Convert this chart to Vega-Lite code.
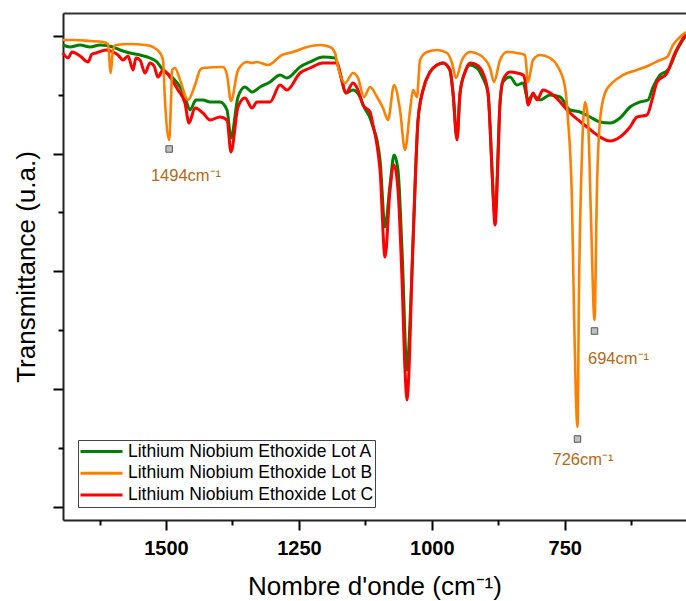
{
"$schema": "https://vega.github.io/schema/vega-lite/v6.json",
"width": 623, "height": 507,
"autosize": {"type": "none"},
"padding": {"left": 63, "top": 13, "right": 0, "bottom": 81},
"config": {"font": "Liberation Sans", "view": {"stroke": null}},
"datasets": {
"spec": [
{"lot":"A","wn":1693.7,"t":475},{"lot":"A","wn":1680.5,"t":473},{"lot":"A","wn":1661.7,"t":475},{"lot":"A","wn":1642.9,"t":473},{"lot":"A","wn":1624.1,"t":475},{"lot":"A","wn":1599.7,"t":473},{"lot":"A","wn":1586.5,"t":470},{"lot":"A","wn":1567.7,"t":467},{"lot":"A","wn":1548.9,"t":465},{"lot":"A","wn":1530.1,"t":462},{"lot":"A","wn":1516.9,"t":458},{"lot":"A","wn":1505.6,"t":450},{"lot":"A","wn":1496.2,"t":446},{"lot":"A","wn":1486.8,"t":442},{"lot":"A","wn":1473.6,"t":433},{"lot":"A","wn":1464.3,"t":423},{"lot":"A","wn":1454.8,"t":410},{"lot":"A","wn":1443.5,"t":420},{"lot":"A","wn":1430.4,"t":420},{"lot":"A","wn":1417.2,"t":418},{"lot":"A","wn":1398.4,"t":418},{"lot":"A","wn":1385.2,"t":410},{"lot":"A","wn":1377.7,"t":382},{"lot":"A","wn":1364.5,"t":423},{"lot":"A","wn":1351.4,"t":433},{"lot":"A","wn":1338.2,"t":428},{"lot":"A","wn":1323.1,"t":433},{"lot":"A","wn":1304.3,"t":438},{"lot":"A","wn":1285.5,"t":445},{"lot":"A","wn":1272.4,"t":442},{"lot":"A","wn":1247.9,"t":453},{"lot":"A","wn":1229.1,"t":458},{"lot":"A","wn":1204.6,"t":463},{"lot":"A","wn":1182.1,"t":462},{"lot":"A","wn":1172.7,"t":447},{"lot":"A","wn":1161.4,"t":427},{"lot":"A","wn":1148.2,"t":430},{"lot":"A","wn":1135,"t":423},{"lot":"A","wn":1127.5,"t":413},{"lot":"A","wn":1116.2,"t":402},{"lot":"A","wn":1110.6,"t":393},{"lot":"A","wn":1103.1,"t":380},{"lot":"A","wn":1097.4,"t":360},{"lot":"A","wn":1088,"t":293},{"lot":"A","wn":1078.6,"t":335},{"lot":"A","wn":1071,"t":365},{"lot":"A","wn":1063.6,"t":350},{"lot":"A","wn":1056,"t":270},{"lot":"A","wn":1046.6,"t":150},{"lot":"A","wn":1040.9,"t":200},{"lot":"A","wn":1037.2,"t":250},{"lot":"A","wn":1031.6,"t":333},{"lot":"A","wn":1025.9,"t":400},{"lot":"A","wn":1016.5,"t":430},{"lot":"A","wn":1003.4,"t":448},{"lot":"A","wn":990.2,"t":455},{"lot":"A","wn":978.9,"t":457},{"lot":"A","wn":965.9,"t":450},{"lot":"A","wn":960.1,"t":427},{"lot":"A","wn":952.6,"t":382},{"lot":"A","wn":946.9,"t":427},{"lot":"A","wn":937.5,"t":448},{"lot":"A","wn":928.1,"t":455},{"lot":"A","wn":915,"t":452},{"lot":"A","wn":903.9,"t":442},{"lot":"A","wn":894.3,"t":427},{"lot":"A","wn":881.1,"t":305},{"lot":"A","wn":871.7,"t":417},{"lot":"A","wn":866.1,"t":438},{"lot":"A","wn":852.9,"t":443},{"lot":"A","wn":839.7,"t":435},{"lot":"A","wn":828.4,"t":437},{"lot":"A","wn":819,"t":420},{"lot":"A","wn":809.6,"t":425},{"lot":"A","wn":796.5,"t":420},{"lot":"A","wn":777.7,"t":425},{"lot":"A","wn":758.8,"t":423},{"lot":"A","wn":740,"t":410},{"lot":"A","wn":721.2,"t":408},{"lot":"A","wn":702.4,"t":403},{"lot":"A","wn":683.6,"t":398},{"lot":"A","wn":664.8,"t":397},{"lot":"A","wn":646,"t":402},{"lot":"A","wn":627.2,"t":413},{"lot":"A","wn":608.4,"t":418},{"lot":"A","wn":593.3,"t":420},{"lot":"A","wn":583.9,"t":433},{"lot":"A","wn":570.7,"t":445},{"lot":"A","wn":555.7,"t":450},{"lot":"A","wn":538.8,"t":470},{"lot":"A","wn":521.9,"t":485},
{"lot":"B","wn":1693.7,"t":480},{"lot":"B","wn":1671.1,"t":480},{"lot":"B","wn":1642.9,"t":479},{"lot":"B","wn":1618.5,"t":478},{"lot":"B","wn":1609.1,"t":476},{"lot":"B","wn":1604,"t":447},{"lot":"B","wn":1599.7,"t":470},{"lot":"B","wn":1594,"t":475},{"lot":"B","wn":1567.7,"t":476},{"lot":"B","wn":1539.5,"t":475},{"lot":"B","wn":1524.4,"t":473},{"lot":"B","wn":1511.2,"t":467},{"lot":"B","wn":1505.6,"t":460},{"lot":"B","wn":1501.9,"t":420},{"lot":"B","wn":1494,"t":380},{"lot":"B","wn":1490.5,"t":420},{"lot":"B","wn":1488.5,"t":450},{"lot":"B","wn":1483.1,"t":452},{"lot":"B","wn":1473.6,"t":440},{"lot":"B","wn":1458.6,"t":420},{"lot":"B","wn":1445.4,"t":435},{"lot":"B","wn":1436,"t":450},{"lot":"B","wn":1430.4,"t":452},{"lot":"B","wn":1392.7,"t":453},{"lot":"B","wn":1385.2,"t":445},{"lot":"B","wn":1377.7,"t":419},{"lot":"B","wn":1364.5,"t":450},{"lot":"B","wn":1347.6,"t":458},{"lot":"B","wn":1338.2,"t":457},{"lot":"B","wn":1328.8,"t":458},{"lot":"B","wn":1308.1,"t":455},{"lot":"B","wn":1281.8,"t":465},{"lot":"B","wn":1261.1,"t":468},{"lot":"B","wn":1234.7,"t":473},{"lot":"B","wn":1210.3,"t":475},{"lot":"B","wn":1191.4,"t":473},{"lot":"B","wn":1182.1,"t":467},{"lot":"B","wn":1176.4,"t":453},{"lot":"B","wn":1163.3,"t":437},{"lot":"B","wn":1148.2,"t":447},{"lot":"B","wn":1138.8,"t":442},{"lot":"B","wn":1127.5,"t":423},{"lot":"B","wn":1116.2,"t":433},{"lot":"B","wn":1103.1,"t":423},{"lot":"B","wn":1091.8,"t":412},{"lot":"B","wn":1082.4,"t":400},{"lot":"B","wn":1071,"t":435},{"lot":"B","wn":1059.8,"t":410},{"lot":"B","wn":1050.4,"t":370},{"lot":"B","wn":1040.9,"t":410},{"lot":"B","wn":1035.3,"t":430},{"lot":"B","wn":1027.8,"t":423},{"lot":"B","wn":1022.2,"t":460},{"lot":"B","wn":1009,"t":468},{"lot":"B","wn":990.2,"t":470},{"lot":"B","wn":971.4,"t":467},{"lot":"B","wn":962,"t":457},{"lot":"B","wn":954.5,"t":442},{"lot":"B","wn":943.2,"t":460},{"lot":"B","wn":928.1,"t":468},{"lot":"B","wn":909.4,"t":465},{"lot":"B","wn":890.5,"t":452},{"lot":"B","wn":883,"t":438},{"lot":"B","wn":871.7,"t":460},{"lot":"B","wn":858.6,"t":468},{"lot":"B","wn":839.7,"t":467},{"lot":"B","wn":824.7,"t":465},{"lot":"B","wn":819,"t":438},{"lot":"B","wn":809.6,"t":460},{"lot":"B","wn":796.5,"t":465},{"lot":"B","wn":777.7,"t":462},{"lot":"B","wn":762.6,"t":453},{"lot":"B","wn":749.5,"t":433},{"lot":"B","wn":743.8,"t":400},{"lot":"B","wn":736.3,"t":317},{"lot":"B","wn":732.5,"t":207},{"lot":"B","wn":726,"t":93},{"lot":"B","wn":723.1,"t":233},{"lot":"B","wn":717.5,"t":367},{"lot":"B","wn":711.8,"t":418},{"lot":"B","wn":706.2,"t":400},{"lot":"B","wn":700.5,"t":300},{"lot":"B","wn":694,"t":200},{"lot":"B","wn":689.3,"t":333},{"lot":"B","wn":683.6,"t":400},{"lot":"B","wn":674.2,"t":427},{"lot":"B","wn":661,"t":437},{"lot":"B","wn":640.3,"t":445},{"lot":"B","wn":614,"t":450},{"lot":"B","wn":589.6,"t":455},{"lot":"B","wn":570.7,"t":460},{"lot":"B","wn":557.6,"t":463},{"lot":"B","wn":546.3,"t":475},{"lot":"B","wn":533.2,"t":483},{"lot":"B","wn":521.9,"t":488},
{"lot":"C","wn":1693.7,"t":467},{"lot":"C","wn":1684.3,"t":462},{"lot":"C","wn":1676.8,"t":468},{"lot":"C","wn":1661.7,"t":464},{"lot":"C","wn":1646.7,"t":458},{"lot":"C","wn":1639.1,"t":466},{"lot":"C","wn":1631.6,"t":467},{"lot":"C","wn":1612.8,"t":470},{"lot":"C","wn":1599.7,"t":468},{"lot":"C","wn":1590.3,"t":465},{"lot":"C","wn":1580.8,"t":460},{"lot":"C","wn":1571.4,"t":464},{"lot":"C","wn":1562,"t":450},{"lot":"C","wn":1556.4,"t":462},{"lot":"C","wn":1548.9,"t":460},{"lot":"C","wn":1539.5,"t":447},{"lot":"C","wn":1530.1,"t":457},{"lot":"C","wn":1522.5,"t":454},{"lot":"C","wn":1515,"t":443},{"lot":"C","wn":1505.6,"t":450},{"lot":"C","wn":1492.5,"t":443},{"lot":"C","wn":1477.4,"t":430},{"lot":"C","wn":1464.3,"t":417},{"lot":"C","wn":1456.7,"t":397},{"lot":"C","wn":1445.4,"t":412},{"lot":"C","wn":1430.4,"t":407},{"lot":"C","wn":1417.2,"t":400},{"lot":"C","wn":1398.4,"t":403},{"lot":"C","wn":1385.2,"t":400},{"lot":"C","wn":1377.7,"t":368},{"lot":"C","wn":1364.5,"t":413},{"lot":"C","wn":1351.4,"t":422},{"lot":"C","wn":1338.2,"t":412},{"lot":"C","wn":1328.8,"t":418},{"lot":"C","wn":1304.3,"t":418},{"lot":"C","wn":1285.5,"t":435},{"lot":"C","wn":1272.4,"t":430},{"lot":"C","wn":1247.9,"t":447},{"lot":"C","wn":1229.1,"t":452},{"lot":"C","wn":1204.6,"t":457},{"lot":"C","wn":1178.3,"t":457},{"lot":"C","wn":1170.8,"t":443},{"lot":"C","wn":1161.4,"t":427},{"lot":"C","wn":1148.2,"t":437},{"lot":"C","wn":1138.8,"t":430},{"lot":"C","wn":1129.4,"t":415},{"lot":"C","wn":1116.2,"t":408},{"lot":"C","wn":1110.6,"t":395},{"lot":"C","wn":1103.1,"t":375},{"lot":"C","wn":1097.4,"t":350},{"lot":"C","wn":1088,"t":263},{"lot":"C","wn":1078.6,"t":330},{"lot":"C","wn":1071,"t":355},{"lot":"C","wn":1063.6,"t":330},{"lot":"C","wn":1056,"t":240},{"lot":"C","wn":1050.4,"t":150},{"lot":"C","wn":1046.6,"t":120},{"lot":"C","wn":1042.9,"t":150},{"lot":"C","wn":1037.2,"t":250},{"lot":"C","wn":1031.6,"t":333},{"lot":"C","wn":1025.9,"t":400},{"lot":"C","wn":1016.5,"t":430},{"lot":"C","wn":1003.4,"t":448},{"lot":"C","wn":990.2,"t":455},{"lot":"C","wn":978.9,"t":457},{"lot":"C","wn":965.9,"t":450},{"lot":"C","wn":960.1,"t":427},{"lot":"C","wn":952.6,"t":380},{"lot":"C","wn":946.9,"t":427},{"lot":"C","wn":937.5,"t":448},{"lot":"C","wn":928.1,"t":457},{"lot":"C","wn":915,"t":455},{"lot":"C","wn":903.9,"t":447},{"lot":"C","wn":894.3,"t":427},{"lot":"C","wn":886.7,"t":350},{"lot":"C","wn":881.1,"t":295},{"lot":"C","wn":875.5,"t":360},{"lot":"C","wn":871.7,"t":417},{"lot":"C","wn":866.1,"t":440},{"lot":"C","wn":852.9,"t":448},{"lot":"C","wn":839.7,"t":447},{"lot":"C","wn":828.4,"t":445},{"lot":"C","wn":824.7,"t":440},{"lot":"C","wn":819,"t":415},{"lot":"C","wn":809.6,"t":427},{"lot":"C","wn":802.1,"t":420},{"lot":"C","wn":790.8,"t":430},{"lot":"C","wn":772,"t":425},{"lot":"C","wn":740,"t":407},{"lot":"C","wn":708,"t":393},{"lot":"C","wn":683.6,"t":383},{"lot":"C","wn":664.8,"t":379},{"lot":"C","wn":646,"t":383},{"lot":"C","wn":627.2,"t":393},{"lot":"C","wn":614,"t":403},{"lot":"C","wn":595.2,"t":405},{"lot":"C","wn":585.8,"t":420},{"lot":"C","wn":576.4,"t":438},{"lot":"C","wn":557.6,"t":447},{"lot":"C","wn":542.5,"t":467},{"lot":"C","wn":529.4,"t":480},{"lot":"C","wn":521.9,"t":487}
],
"marks": [{"wn":1494,"t":371},{"wn":694,"t":189},{"wn":726,"t":81}],
"labels": [{"wn":1462.4,"t":344,"label":"1494cm⁻¹"},{"wn":648.8,"t":161,"label":"694cm⁻¹"},{"wn":715.6,"t":60,"label":"726cm⁻¹"}]
},
"resolve": {"axis": {"x": "independent", "y": "independent"}},
"layer": [
{
"data": {"name": "spec"},
"transform": [{"filter": "datum.lot === 'A'"}],
"mark": {"type": "line", "strokeWidth": 3, "interpolate": "monotone"},
"encoding": {
"x": {"field": "wn", "type": "quantitative",
"scale": {"domain": [521.9, 1693.7], "reverse": true, "nice": false, "zero": false},
"axis": {"orient": "bottom", "values": [1500, 1250, 1000, 750], "format": "d", "title": "Nombre d'onde (cm⁻¹)", "titleFontSize": 26, "titleFontWeight": "normal", "titleColor": "#000", "titlePadding": 15, "labelFontSize": 20, "labelFontWeight": "bold", "labelColor": "#000", "labelPadding": 8, "tickSize": 10, "tickWidth": 2, "tickColor": "#000", "domainColor": "#222", "domainWidth": 2, "grid": false, "labelFlush": false, "labelOverlap": false}},
"y": {"field": "t", "type": "quantitative",
"scale": {"domain": [0, 507], "nice": false, "zero": false},
"axis": {"orient": "left", "values": [13.3, 131, 248.7, 366.4, 484.1], "labels": false, "title": "Transmittance (u.a.)", "titleFontSize": 26, "titleFontWeight": "normal", "titleColor": "#000", "titlePadding": 13, "tickSize": 10, "tickWidth": 2, "tickColor": "#000", "domainColor": "#222", "domainWidth": 2, "grid": false}},
"order": {"field": "wn", "sort": "descending"},
"color": {"field": "lot", "type": "nominal",
"scale": {"domain": ["A", "B", "C"], "range": ["#008000", "#ff8000", "#ff0000"]},
"legend": {"orient": "none", "legendX": 15, "legendY": 427, "title": null, "labelExpr": "'Lithium Niobium Ethoxide Lot ' + datum.label", "labelFontSize": 17.5, "labelColor": "#000", "labelLimit": 400, "symbolType": "stroke", "symbolSize": 1764, "symbolStrokeWidth": 3, "clipHeight": 21, "rowPadding": 0.7, "labelOffset": 4, "padding": 1, "strokeColor": "#444"}}
}
},
{
"data": {"name": "spec"},
"transform": [{"filter": "datum.lot === 'C'"}],
"mark": {"type": "line", "strokeWidth": 3, "interpolate": "monotone"},
"encoding": {
"x": {"field": "wn", "type": "quantitative",
"axis": {"orient": "bottom", "values": [1625, 1375, 1125, 875, 625], "labels": false, "domain": false, "title": null, "tickSize": 5, "tickWidth": 2, "tickColor": "#000", "grid": false}},
"y": {"field": "t", "type": "quantitative",
"axis": {"orient": "left", "values": [72.2, 189.9, 307.6, 425.3], "labels": false, "domain": false, "title": null, "tickSize": 5, "tickWidth": 2, "tickColor": "#000", "grid": false}},
"order": {"field": "wn", "sort": "descending"},
"color": {"field": "lot", "type": "nominal"}
}
},
{
"data": {"name": "spec"},
"transform": [{"filter": "datum.lot === 'B'"}],
"mark": {"type": "line", "strokeWidth": 2.6, "interpolate": "monotone"},
"encoding": {
"x": {"field": "wn", "type": "quantitative",
"axis": {"orient": "top", "ticks": false, "labels": false, "title": null, "domainColor": "#333", "domainWidth": 2, "grid": false}},
"y": {"field": "t", "type": "quantitative", "axis": null},
"order": {"field": "wn", "sort": "descending"},
"color": {"field": "lot", "type": "nominal"}
}
},
{
"data": {"name": "marks"},
"mark": {"type": "square", "size": 42, "fill": "#c0c0c0", "stroke": "#555", "strokeWidth": 1, "opacity": 1},
"encoding": {
"x": {"field": "wn", "type": "quantitative", "axis": null},
"y": {"field": "t", "type": "quantitative", "axis": null}
}
},
{
"data": {"name": "labels"},
"mark": {"type": "text", "fontSize": 16.5, "color": "#b36a18", "align": "center", "baseline": "middle"},
"encoding": {
"x": {"field": "wn", "type": "quantitative", "axis": null},
"y": {"field": "t", "type": "quantitative", "axis": null},
"text": {"field": "label"}
}
}
]
}
